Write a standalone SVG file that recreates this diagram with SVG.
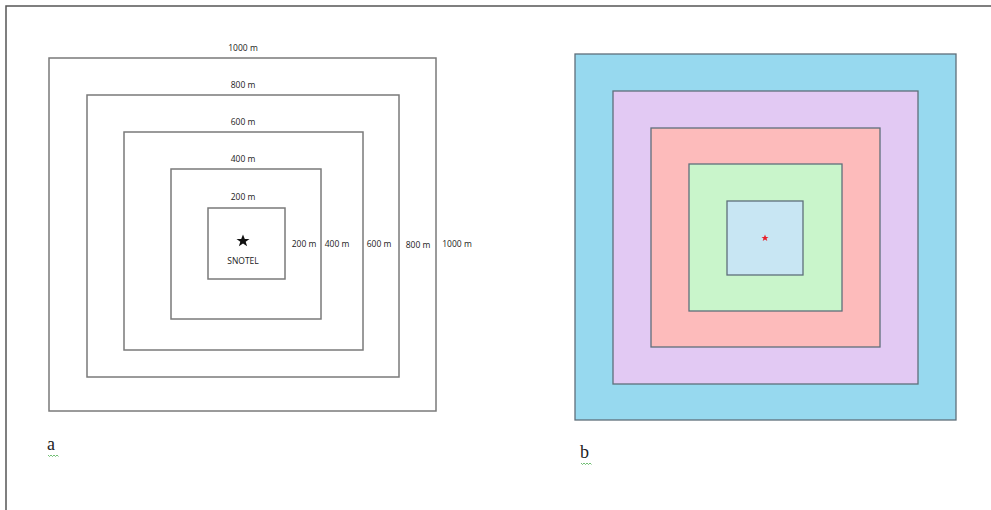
<svg xmlns="http://www.w3.org/2000/svg" width="991" height="510" viewBox="0 0 991 510">
<style>
.r{fill:none;stroke:#7a7a7a;stroke-width:1.5}
.b{stroke:#5f6f7a;stroke-width:1.3}
.t{font-family:"Open Sans","Liberation Sans",sans-serif;font-size:8.5px;fill:#1a1a1a;text-anchor:middle}
.l{font-family:"Liberation Serif",serif;font-size:18px;fill:#222}
.sq{fill:none;stroke:#4caf50;stroke-width:0.8}
</style>
<rect width="991" height="510" fill="#fff"/>
<path d="M6 510 V6 H991" fill="none" stroke="#555" stroke-width="1.5"/>
<g id="panel-a">
<g id="r1000"><rect class="r" x="49" y="58" width="387" height="353"/><text class="t" x="243" y="51">1000 m</text><text class="t" x="457" y="247">1000 m</text></g>
<g id="r800"><rect class="r" x="87" y="95" width="312" height="282"/><text class="t" x="243" y="88">800 m</text><text class="t" x="418" y="248">800 m</text></g>
<g id="r600"><rect class="r" x="124" y="132" width="239" height="218"/><text class="t" x="243" y="125">600 m</text><text class="t" x="379" y="247">600 m</text></g>
<g id="r400"><rect class="r" x="171" y="169" width="150" height="150"/><text class="t" x="243" y="162">400 m</text><text class="t" x="337" y="247">400 m</text></g>
<g id="r200"><rect class="r" x="208" y="208" width="77" height="71"/><text class="t" x="243" y="200">200 m</text><text class="t" x="304" y="247">200 m</text></g>
<g id="snotel"><polygon points="243,234.5 244.8,239 249.5,239 245.7,241.8 247.1,246.3 243,243.5 238.9,246.3 240.3,241.8 236.5,239 241.2,239" fill="#111"/><text class="t" x="243" y="264">SNOTEL</text></g>
<g id="label-a"><text class="l" x="47" y="450">a</text><path class="sq" d="M48 455 l1.5 1.5 l1.5 -1.5 l1.5 1.5 l1.5 -1.5 l1.5 1.5 l1.5 -1.5 l1.5 1.5"/></g>
</g>
<g id="panel-b">
<rect id="b1000" class="b" x="575" y="54" width="381" height="366" fill="#97d9ef"/>
<rect id="b800" class="b" x="613" y="91" width="305" height="293" fill="#e2c9f3"/>
<rect id="b600" class="b" x="651" y="128" width="229" height="219" fill="#fdbbbb"/>
<rect id="b400" class="b" x="689" y="164" width="153" height="147" fill="#c9f5cb"/>
<rect id="b200" class="b" x="727" y="201" width="76" height="74" fill="#c8e6f3"/>
<polygon id="star-b" points="765,234.5 766,237 768.5,237 766.5,238.5 767.3,241 765,239.5 762.7,241 763.5,238.5 761.5,237 764,237" fill="#e8202a"/>
<g id="label-b"><text class="l" x="580" y="458">b</text><path class="sq" d="M581 463 l1.5 1.5 l1.5 -1.5 l1.5 1.5 l1.5 -1.5 l1.5 1.5 l1.5 -1.5 l1.5 1.5"/></g>
</g>
<g id="connectors"></g>
</svg>
